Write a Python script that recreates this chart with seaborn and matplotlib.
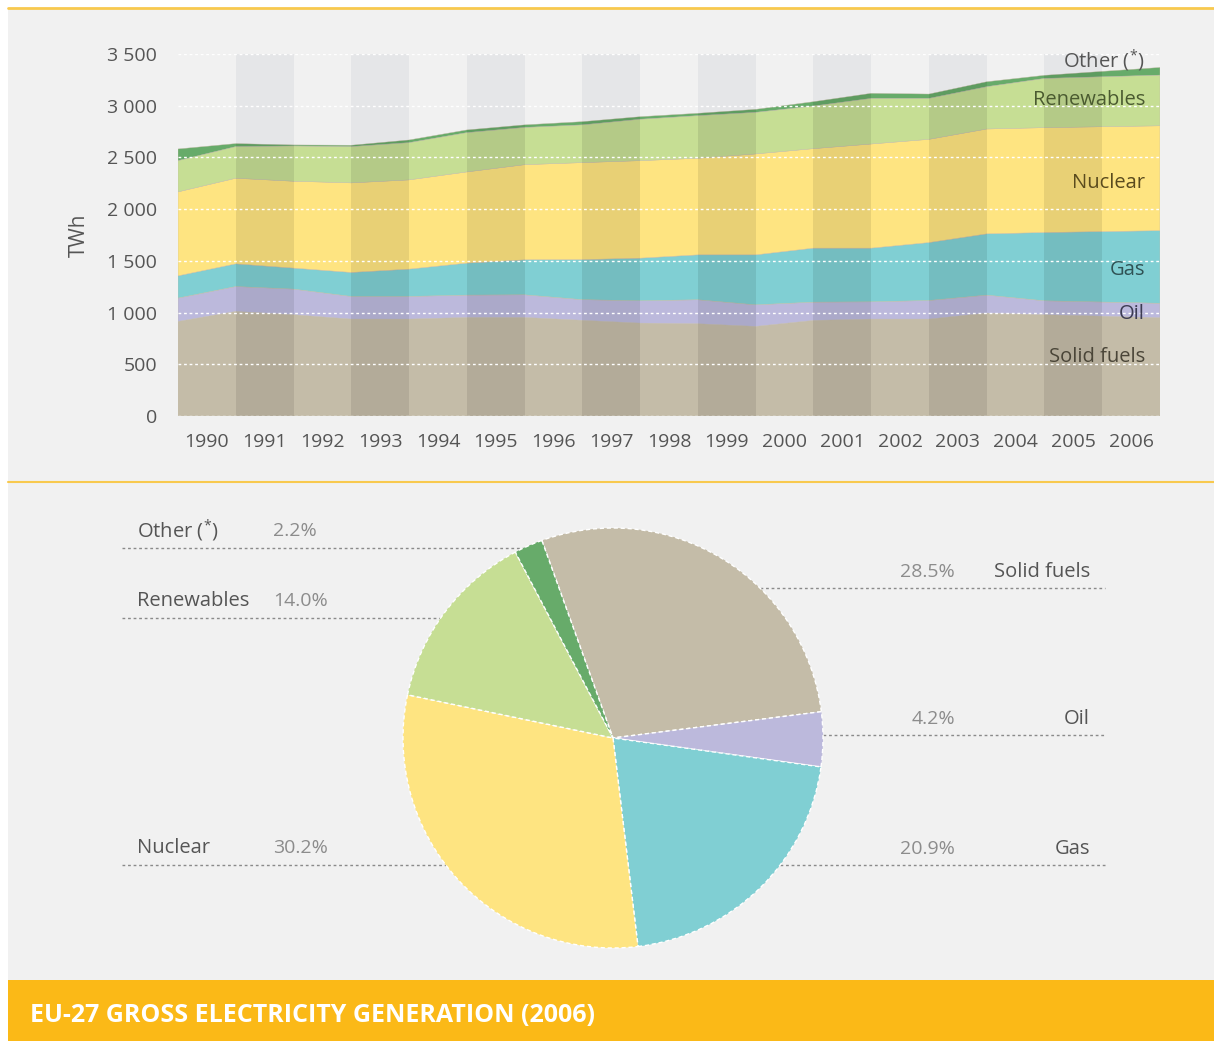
import numpy as np
import matplotlib.pyplot as plt
import seaborn as sns

# EU-27 gross electricity generation by fuel, TWh
years = list(range(1990, 2007))
solid_fuels = [914, 1011, 979, 937, 937, 953, 953, 925, 898, 892, 866, 924, 937, 937, 995, 979, 950]
oil = [226, 241, 248, 219, 219, 216, 219, 200, 216, 232, 209, 177, 167, 180, 174, 135, 140]
gas = [215, 219, 203, 232, 264, 309, 338, 387, 412, 434, 483, 522, 519, 560, 592, 660, 702]
nuclear = [812, 828, 840, 866, 863, 882, 920, 938, 943, 934, 976, 962, 1007, 998, 1014, 1014, 1014]
renewables = [302, 306, 341, 351, 360, 380, 360, 365, 400, 412, 402, 412, 441, 396, 409, 476, 490]
other = [113, 29, 10, 13, 26, 26, 25, 31, 25, 23, 29, 42, 49, 42, 48, 30, 74]

y_ticks = [0, 500, 1000, 1500, 2000, 2500, 3000, 3500]
y_ticklabels = ['0', '500', '1 000', '1 500', '2 000', '2 500', '3 000', '3 500']

# 2006 shares, %
pie_names = ['Solid fuels', 'Oil', 'Gas', 'Nuclear', 'Renewables', r'Other ($^{*}$)']
pie_shares = [28.5, 4.2, 20.9, 30.2, 14.0, 2.2]

colors = ['#c4bca8', '#bcb9dc', '#80cfd3', '#fee481', '#c6de94', '#67ab6a']
text_dark = '#555555'
text_light = '#8c8c8c'
bg_grey = '#f1f1f1'
orange = '#fbb917'

sns.set_theme(style='white')
plt.rcParams['font.family'] = ['Open Sans', 'DejaVu Sans']
plt.rcParams['mathtext.fontset'] = 'custom'
plt.rcParams['mathtext.rm'] = 'Open Sans'

W, H = 1214, 1041
fig = plt.figure(figsize=(W / 100, H / 100), dpi=100, facecolor='white')

# Background panel in pixel coordinates
bg = fig.add_axes([0, 0, 1, 1], zorder=-1)
bg.set_xlim(0, W)
bg.set_ylim(H, 0)
bg.axis('off')
bg.add_patch(plt.Rectangle((8, 8), W - 8, 972, color=bg_grey, lw=0))
bg.plot([8, W], [8, 8], color='#f8c94e', lw=2)
bg.plot([8, W], [482, 482], color='#f8c94e', lw=1.5)
bg.add_patch(plt.Rectangle((8, 980), W - 8, 61, color=orange, lw=0))
bg.text(30, 1016, 'EU-27 GROSS ELECTRICITY GENERATION (2006)', color='white',
        fontsize=18, fontweight='bold', va='center', ha='left')

# ---- Stacked area chart ----
ax = fig.add_axes([178 / W, 1 - 416 / H, 982 / W, 362 / H])
ax.set_facecolor('none')
idx = np.arange(len(years))
pos = idx - 0.5
pos[-1] = idx[-1] + 0.5
layers = [solid_fuels, oil, gas, nuclear, renewables, other]
ax.stackplot(pos, layers, colors=colors, linewidth=0.3, edgecolors=colors, zorder=2)

# alternate year columns: light grey on background, darker tint over the areas
total = np.sum(layers, axis=0)
env = ax.fill_between(pos, 0, total, color='none', lw=0)
clip = env.get_paths()[0]
for i in idx[1::2]:
    ax.axvspan(i - 0.5, i + 0.5, color='#e5e6e8', lw=0, zorder=0.5)
    sp = ax.axvspan(i - 0.5, i + 0.5, color='black', alpha=0.085, lw=0, zorder=2.5)
    sp.set_clip_path(clip, ax.transData)

for y in y_ticks:
    ax.axhline(y, color='white', lw=1, ls=(0, (2, 2)), zorder=3)

ax.set_xlim(-0.5, idx[-1] + 0.5)
ax.set_ylim(0, 3500)
ax.set_xticks(idx)
ax.set_xticklabels(years)
ax.set_yticks(y_ticks)
ax.set_yticklabels(y_ticklabels)
ax.tick_params(length=0, labelsize=14, labelcolor=text_dark)
ax.tick_params(axis='x', pad=12)
ax.tick_params(axis='y', pad=15)
for s in ax.spines.values():
    s.set_visible(False)
ax.set_ylabel('TWh', fontsize=15, color=text_dark)
ax.yaxis.set_label_coords(-0.09, 0.5)

label_x = 16.24
label_y = [571, 986, 1412, 2253, 3056, 3433]
label_col = ['#4a4538', '#3c3b52', '#2f5254', '#5a4b1e', '#4a5a30', text_dark]
for name, ly, c in zip(pie_names, label_y, label_col):
    ax.text(label_x, ly, name, ha='right', va='center', fontsize=14.5, color=c, zorder=4)

# ---- Pie chart ----
cx, cy, r = 613, 738, 210
pax = fig.add_axes([(cx - r) / W, 1 - (cy + r) / H, 2 * r / W, 2 * r / H])
pax.pie(pie_shares, colors=colors, startangle=109.8, counterclock=False,
        wedgeprops=dict(edgecolor='white', linewidth=1, linestyle=(0, (3, 2))))
pax.set_xlim(-1, 1)
pax.set_ylim(-1, 1)
pax.set_aspect('auto')

# labels with dotted leader lines to the pie edge
left_items = [(5, 531, 548), (4, 601, 618), (3, 848, 865)]
right_items = [(0, 572, 588), (1, 719, 735), (2, 849, 865)]
for k, ty, ly in left_items:
    edge = cx - np.sqrt(r ** 2 - (ly - cy) ** 2)
    bg.plot([122, edge], [ly, ly], color='#8a8a8a', lw=1, ls=(0, (2, 2)))
    bg.text(137, ty, pie_names[k], fontsize=14.5, color=text_dark, va='center')
    bg.text(273, ty, f'{pie_shares[k]:.1f}%', fontsize=14, color=text_light, va='center')
for k, ty, ly in right_items:
    edge = cx + np.sqrt(r ** 2 - (ly - cy) ** 2)
    bg.plot([edge, 1105], [ly, ly], color='#8a8a8a', lw=1, ls=(0, (2, 2)))
    bg.text(1090, ty, pie_names[k], fontsize=14.5, color=text_dark, va='center', ha='right')
    bg.text(955, ty, f'{pie_shares[k]:.1f}%', fontsize=14, color=text_light, va='center', ha='right')

fig.savefig('out.png', dpi=100, facecolor='white')
